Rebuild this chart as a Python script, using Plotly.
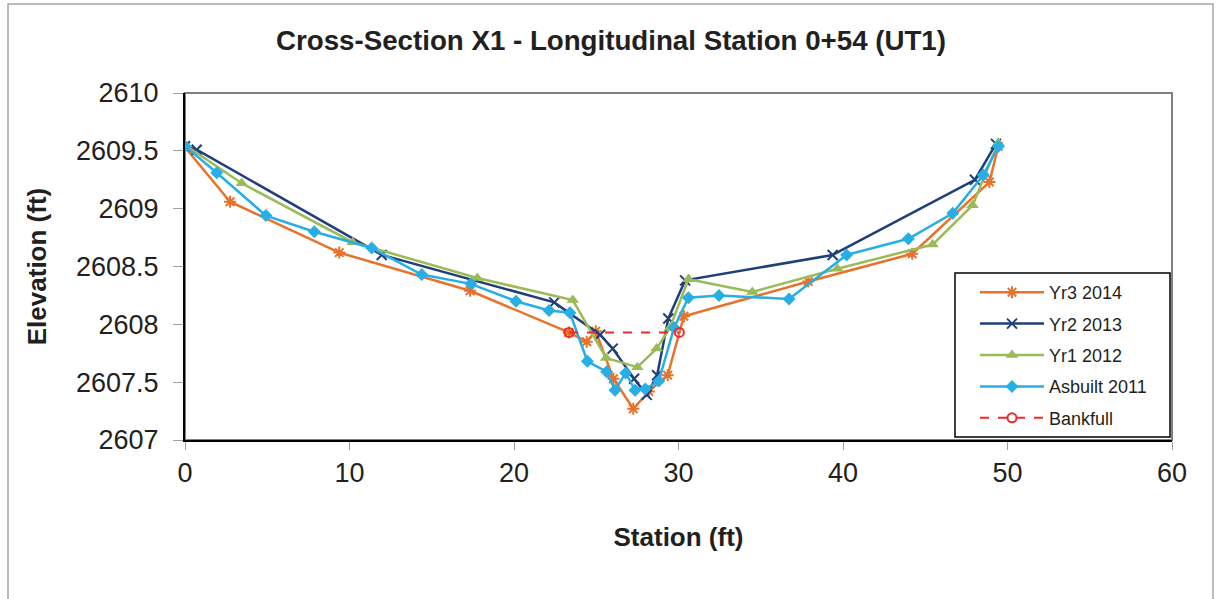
import plotly.graph_objects as go

# ---- data ----
yr3_x = [0, 2.74, 9.38, 17.33, 23.34, 24.42, 24.97, 26.04, 27.25, 28.2, 29.34, 30.33, 37.89, 44.21, 48.9, 49.44]
yr3_y = [2609.53, 2609.06, 2608.62, 2608.29, 2607.93, 2607.85, 2607.94, 2607.53, 2607.27, 2607.42, 2607.56, 2608.07, 2608.37, 2608.61, 2609.23, 2609.54]

yr2_x = [0, 0.71, 11.96, 22.45, 25.23, 26.0, 27.3, 28.07, 28.7, 29.38, 30.4, 39.37, 48.02, 49.3]
yr2_y = [2609.54, 2609.51, 2608.6, 2608.19, 2607.91, 2607.79, 2607.53, 2607.39, 2607.56, 2608.05, 2608.38, 2608.6, 2609.25, 2609.56]

yr1_x = [0, 3.45, 10.19, 17.77, 23.57, 25.6, 27.5, 28.67, 29.48, 30.6, 34.49, 39.65, 45.45, 47.88, 49.44]
yr1_y = [2609.55, 2609.22, 2608.71, 2608.4, 2608.21, 2607.71, 2607.63, 2607.79, 2607.97, 2608.39, 2608.28, 2608.48, 2608.69, 2609.03, 2609.57]

asb_x = [0, 1.93, 4.92, 7.86, 11.35, 14.39, 17.37, 20.12, 22.13, 23.4, 24.46, 25.63, 26.14, 26.79, 27.36, 27.98, 28.8, 29.73, 30.6, 32.46, 36.72, 40.22, 43.97, 46.67, 48.53, 49.44]
asb_y = [2609.54, 2609.31, 2608.94, 2608.8, 2608.66, 2608.43, 2608.35, 2608.2, 2608.12, 2608.1, 2607.68, 2607.59, 2607.43, 2607.58, 2607.43, 2607.44, 2607.51, 2607.97, 2608.23, 2608.25, 2608.22, 2608.6, 2608.74, 2608.96, 2609.29, 2609.54]

bank_x = [23.34, 30.05]
bank_y = [2607.93, 2607.93]

x_ticks = [0, 10, 20, 30, 40, 50, 60]
y_ticks = [2607, 2607.5, 2608, 2608.5, 2609, 2609.5, 2610]
y_tick_text = ["2607", "2607.5", "2608", "2608.5", "2609", "2609.5", "2610"]

ORANGE = "#E8722C"
NAVY = "#1F3F7A"
GREEN = "#9BBB59"
CYAN = "#27AEE4"
RED = "#EE2A2A"

FONT = "Liberation Sans, Arial, sans-serif"
TXT = "#231F20"

fig = go.Figure()
fig.add_trace(go.Scatter(x=yr3_x, y=yr3_y, name="Yr3 2014", mode="lines+markers", legendgroup="a",
                         line=dict(color=ORANGE, width=2.5),
                         marker=dict(symbol="asterisk-open", size=10, color=ORANGE, line=dict(color=ORANGE, width=2))))
fig.add_trace(go.Scatter(x=yr2_x, y=yr2_y, name="Yr2 2013", mode="lines+markers", legendgroup="b",
                         line=dict(color=NAVY, width=2.5),
                         marker=dict(symbol="x-thin-open", size=10, color=NAVY, line=dict(color=NAVY, width=2))))
fig.add_trace(go.Scatter(x=yr1_x, y=yr1_y, name="Yr1 2012", mode="lines+markers", legendgroup="c",
                         line=dict(color=GREEN, width=2.5),
                         marker=dict(symbol="triangle-up", size=11, color=GREEN)))
fig.add_trace(go.Scatter(x=asb_x, y=asb_y, name="Asbuilt 2011", mode="lines+markers", legendgroup="d",
                         line=dict(color=CYAN, width=2.5),
                         marker=dict(symbol="diamond", size=10, color=CYAN)))
fig.add_trace(go.Scatter(x=bank_x, y=bank_y, name="Bankfull", mode="lines+markers", legendgroup="e",
                         line=dict(color=RED, width=2, dash="dash"),
                         marker=dict(symbol="circle-open", size=9, color=RED, line=dict(color=RED, width=2))))

# plot area: left=185, right=1172, top=93, bottom=440 (px)
PL, PR, PT, PB = 185, 1172, 93, 440
def px_x(p):
    return (p - PL) / (PR - PL)
def px_y(p):
    return (PB - p) / (PB - PT)

# outer chart border
fig.add_shape(type="rect", xref="paper", yref="paper", x0=px_x(8), x1=px_x(1213), y0=px_y(640), y1=px_y(4),
              line=dict(color="#A6A6A6", width=1.5), fillcolor="rgba(0,0,0,0)", layer="below")
# plot-area frame (top/right gray)
fig.add_shape(type="rect", xref="paper", yref="paper", x0=0, x1=1, y0=0, y1=1,
              line=dict(color="#808080", width=2), fillcolor="rgba(0,0,0,0)", layer="below")
# legend box
fig.add_shape(type="rect", xref="paper", yref="paper", x0=px_x(955), x1=px_x(1170), y0=px_y(437), y1=px_y(273),
              line=dict(color="#000000", width=1.5), fillcolor="white", layer="below")

fig.update_layout(
    width=1222, height=599,
    margin=dict(l=PL, r=1222 - PR, t=PT, b=599 - PB, autoexpand=False),
    paper_bgcolor="white", plot_bgcolor="white",
    font=dict(family=FONT, color=TXT),
    title=dict(text="<b>Cross-Section X1 - Longitudinal Station 0+54 (UT1)</b>",
               x=0.5, xref="container", xanchor="center", y=1 - 40 / 599, yref="container", yanchor="middle",
               font=dict(size=27.7, family=FONT, color=TXT)),
    showlegend=True,
    legend=dict(x=px_x(975), y=px_y(274), xanchor="left", yanchor="top",
                bgcolor="rgba(0,0,0,0)", borderwidth=0,
                font=dict(size=18, family=FONT, color=TXT),
                tracegroupgap=5, itemwidth=64),
    xaxis=dict(range=[0, 60], tickvals=x_ticks, ticktext=[str(v) for v in x_ticks], automargin=False,
               showgrid=False, zeroline=False, showline=True, linecolor="#000000", linewidth=2,
               ticks="outside", ticklen=8, tickcolor="#A0A0A0", tickwidth=1, ticklabelstandoff=0,
               tickfont=dict(size=27, family=FONT, color=TXT),
               title=dict(text="<b>Station (ft)</b>", font=dict(size=26, family=FONT, color=TXT), standoff=40)),
    yaxis=dict(range=[2607, 2610], tickvals=y_ticks, ticktext=y_tick_text, automargin=False,
               showgrid=False, zeroline=False, showline=True, linecolor="#000000", linewidth=2,
               ticks="outside", ticklen=10, tickcolor="#A0A0A0", tickwidth=1, ticklabelstandoff=9,
               tickfont=dict(size=27, family=FONT, color=TXT),
               title=dict(text="<b>Elevation (ft)</b>", font=dict(size=26, family=FONT, color=TXT), standoff=22)),
)

fig.write_html("out.html", config={"displayModeBar": False},
               post_script="document.body.style.margin='0';")
